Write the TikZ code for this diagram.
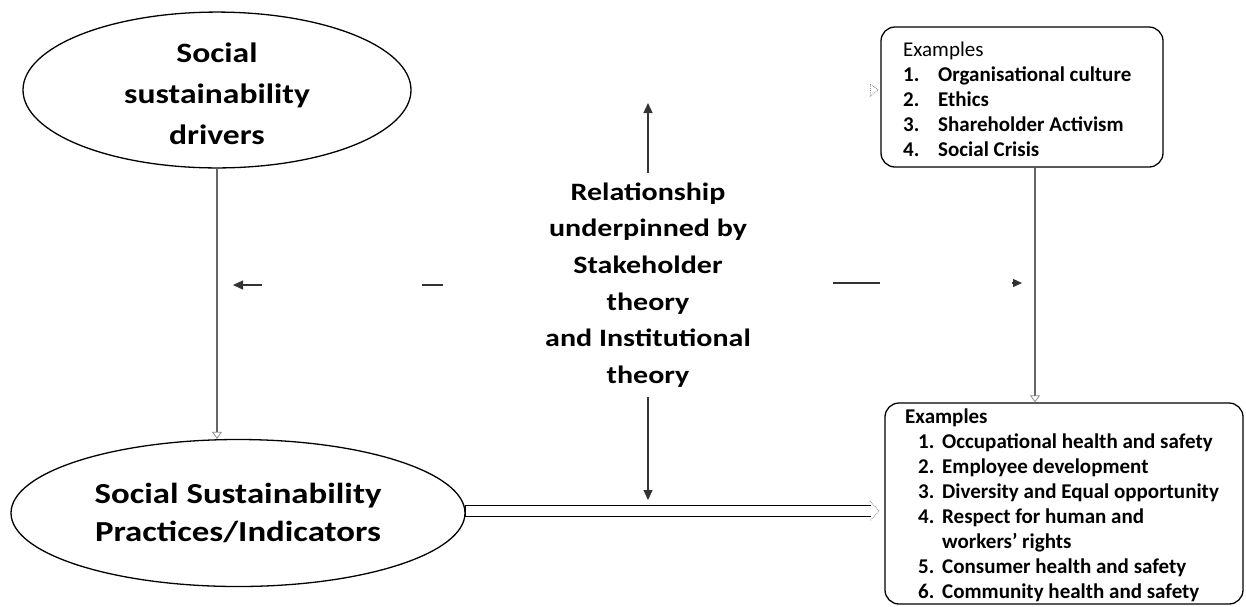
\documentclass[tikz,border=0pt]{standalone}
\usepackage{fontspec}
\setmainfont{Carlito}
\newfontfamily\widefont[FakeStretch=1.2]{Carlito}
\usetikzlibrary{arrows.meta,calc,shapes.geometric}

% indent, number column width, number
\newcommand\numitem[3]{\hspace*{#1}\makebox[#2][l]{#3}}

\begin{document}
\begin{tikzpicture}[x=1pt,y=-1pt,
  oval/.style={ellipse, draw, line width=1.3pt, inner sep=0pt, align=center},
  exbox/.style={draw, rounded corners=14pt, line width=1.3pt, inner sep=0pt},
  listtxt/.style={align=left, inner sep=0pt, font=\fontsize{21}{25}\selectfont\bfseries},
  link/.style={draw=black!60, line width=1.6pt},
  openhead/.style={-{Triangle[open,length=7pt,width=10pt,color=black!45,line width=0.8pt]}},
  solidhead/.style={-{Triangle[length=10pt,width=9pt]}},
  centerline/.style={draw=black!80, line width=1.3pt},
  faintmark/.style={draw=black!45, densely dotted, line width=0.8pt}]

\useasboundingbox (0,0) rectangle (1246,606);

% the two ovals
\node[oval, minimum width=388pt, minimum height=154pt,
      font=\fontsize{28}{41}\widefont\bfseries] (drv) at (217,90)
  {\rule{0pt}{28pt}Social\\sustainability\\drivers};
\node[oval, minimum width=454pt, minimum height=147pt,
      font=\fontsize{29}{38}\widefont\bfseries] (prac) at (238,513)
  {Social Sustainability\\Practices/Indicators};

% central statement
\node[align=center, inner xsep=0pt, inner ysep=10pt,
      font=\fontsize{25}{36.6}\widefont\bfseries] (rel) at (648,285)
  {Relationship\\underpinned by\\Stakeholder\\theory\\and Institutional\\theory};

% example boxes
\node[exbox, minimum width=282pt, minimum height=140pt] (ex1) at (1022,97) {};
\node[listtxt, anchor=west] (ex1txt) at (903,99)
  {{\mdseries Examples}\\
   \numitem{0pt}{35pt}{1.}Organisational culture\\
   \numitem{0pt}{35pt}{2.}Ethics\\
   \numitem{0pt}{35pt}{3.}Shareholder Activism\\
   \numitem{0pt}{35pt}{4.}Social Crisis};

\node[exbox, minimum width=358pt, minimum height=201pt] (ex2) at (1064,503.5) {};
\node[listtxt, anchor=west] (ex2txt) at (905,505.5)
  {Examples\\
   \numitem{13pt}{24pt}{1.}Occupational health and safety\\
   \numitem{13pt}{24pt}{2.}Employee development\\
   \numitem{13pt}{24pt}{3.}Diversity and Equal opportunity\\
   \numitem{13pt}{24pt}{4.}Respect for human and\\
   \numitem{37pt}{0pt}{}workers’ rights\\
   \numitem{13pt}{24pt}{5.}Consumer health and safety\\
   \numitem{13pt}{24pt}{6.}Community health and safety};

% vertical links
\draw[link, openhead] (drv.south) -- (drv.south |- prac.north);
\coordinate (rvTop) at ($(ex1.south)+(13,0)$);
\draw[link, openhead] (rvTop) -- (rvTop |- ex2.north);

% arrows from the central statement
\coordinate (upTip) at (648,103);
\coordinate (downTip) at (648,500);
\draw[centerline, solidhead] (rel.north) -- (upTip);
\draw[centerline, solidhead] (rel.south) -- (downTip);

% broken horizontal arrows
\coordinate (lArrowFrom) at (262,285);
\coordinate (lArrowTo) at (233,285);
\draw[centerline, -{Triangle[length=10pt,width=9pt]}] (lArrowFrom) -- (lArrowTo);
\coordinate (lDashA) at (422,285);
\coordinate (lDashB) at (443,285);
\draw[centerline] (lDashA) -- (lDashB);
\coordinate (rDashA) at (833,283);
\coordinate (rDashB) at (880,283);
\draw[centerline] (rDashA) -- (rDashB);
\coordinate (rHeadFrom) at (1012,283);
\coordinate (rHeadTo) at (1022,283);
\draw[centerline, -{Triangle[length=9pt,width=8pt]}] (rHeadFrom) -- (rHeadTo);

% small open mark beside the upper box
\draw[faintmark] ($(ex1.west)+(-10,-13)$) -- ++(8,6) -- ++(-8,6) -- cycle;

% hollow arrow from practices to examples
\coordinate (dblTip) at (879,511);
\coordinate (dblStart) at (prac.east |- dblTip);
\draw[line width=1.2pt] ($(dblTip)+(-8,-5.5)$) -- ($(dblStart)+(0,-5.5)$)
  -- ($(dblStart)+(0,5.5)$) -- ($(dblTip)+(-8,5.5)$);
\draw[faintmark] ($(dblTip)+(-9,-10)$) -- (dblTip) -- ($(dblTip)+(-9,10)$);

\end{tikzpicture}
\end{document}
